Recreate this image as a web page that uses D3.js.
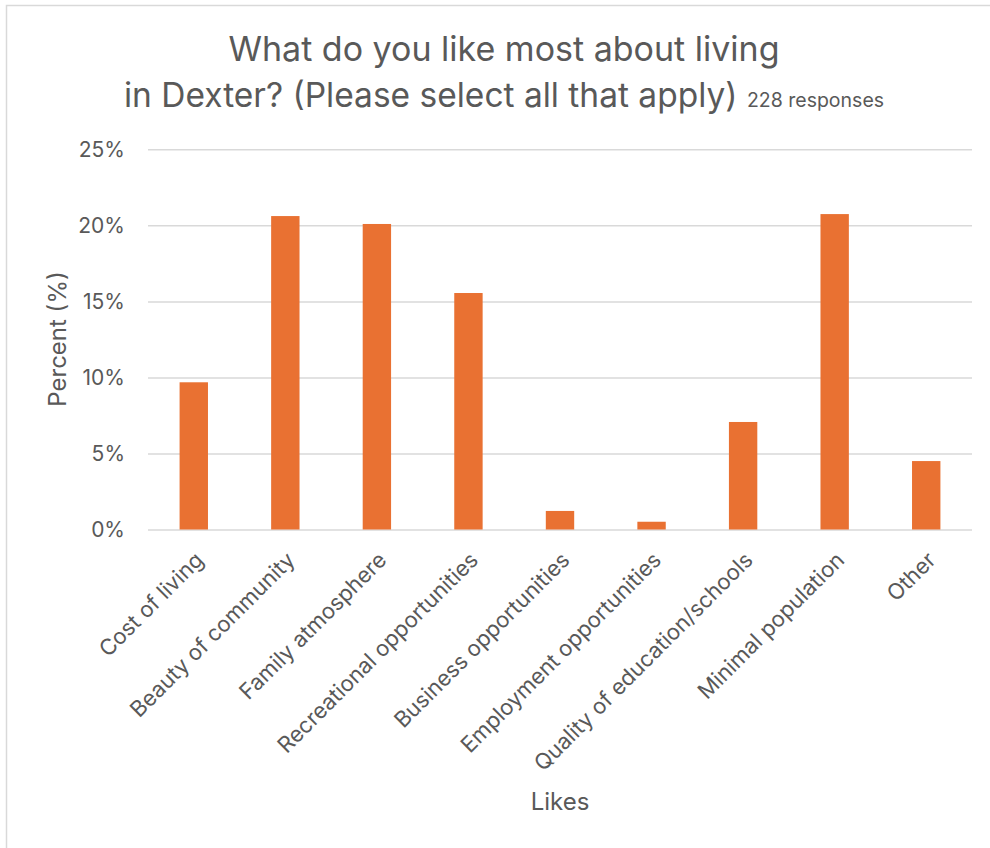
<!DOCTYPE html>
<html>
<head>
<meta charset="utf-8">
<script src="https://cdn.jsdelivr.net/npm/d3@7"></script>
<style>
  html, body { margin: 0; padding: 0; background: #fff; }
  svg { display: block; }
  text { font-family: Inter, "Open Sans", sans-serif; fill: #595959; }
</style>
</head>
<body>
<svg id="chart" width="990" height="848"></svg>
<script>
const categories = [
  "Cost of living",
  "Beauty of community",
  "Family atmosphere",
  "Recreational opportunities",
  "Business opportunities",
  "Employment opportunities",
  "Quality of education/schools",
  "Minimal population",
  "Other"
];
const values = [9.68, 20.61, 20.09, 15.55, 1.22, 0.51, 7.07, 20.74, 4.50];
const yTicks = [0, 5, 10, 15, 20, 25];
const titleLine1 = "What do you like most about living";
const titleLine2 = "in Dexter? (Please select all that apply)";
const subtitle = "228 responses";
const yTitle = "Percent (%)";
const xTitle = "Likes";

const svg = d3.select("#chart");
const plot = { left: 148, right: 972, top: 149.3, bottom: 529.5 };

// chart border
svg.append("rect")
  .attr("x", 6.5).attr("y", 5.5)
  .attr("width", 1000).attr("height", 900)
  .attr("fill", "none").attr("stroke", "#d9d9d9").attr("stroke-width", 1.5);

const x = d3.scaleBand()
  .domain(categories)
  .range([plot.left, plot.right])
  .paddingInner(0.69)
  .paddingOuter(0.345);

const y = d3.scaleLinear()
  .domain([0, 25])
  .range([plot.bottom, plot.top]);

// gridlines + y labels via axis
const yAxis = d3.axisLeft(y)
  .tickValues(yTicks)
  .tickFormat(d => d + "%")
  .tickSize(-(plot.right - plot.left))
  .tickPadding(23);

const gy = svg.append("g")
  .attr("transform", `translate(${plot.left},0)`)
  .call(yAxis);
gy.select(".domain").remove();
gy.selectAll(".tick line").attr("stroke", "#d9d9d9").attr("stroke-width", 1.5);
gy.selectAll(".tick text")
  .attr("font-size", 21)
  .attr("fill", "#595959")
  .style("font-family", "Inter, 'Open Sans', sans-serif");

// bars
svg.append("g").selectAll("rect")
  .data(values)
  .join("rect")
  .attr("x", (d, i) => x(categories[i]))
  .attr("width", x.bandwidth())
  .attr("y", d => y(d))
  .attr("height", d => y(0) - y(d))
  .attr("fill", "#E97132");

// x labels
const xAxis = d3.axisBottom(x).tickSize(0).tickPadding(0);
const gx = svg.append("g")
  .attr("transform", `translate(0,${plot.bottom})`)
  .call(xAxis);
gx.select(".domain").remove();
gx.selectAll(".tick text")
  .attr("font-size", 22)
  .attr("fill", "#595959")
  .style("font-family", "Inter, 'Open Sans', sans-serif")
  .attr("text-anchor", "end")
  .attr("dy", null)
  .attr("y", 0)
  .attr("transform", "translate(11,32) rotate(-45)");

// title
svg.append("text")
  .attr("text-anchor", "middle")
  .attr("font-size", 34)
  .attr("x", 504).attr("y", 61)
  .text(titleLine1);
const line2 = svg.append("text")
  .attr("text-anchor", "middle")
  .attr("x", 504).attr("y", 107);
line2.append("tspan").attr("font-size", 33.5).text(titleLine2 + " ");
line2.append("tspan").attr("font-size", 19.5).text(subtitle);

// axis titles
svg.append("text")
  .attr("text-anchor", "middle")
  .attr("font-size", 24)
  .attr("transform", `translate(66,339) rotate(-90)`)
  .text(yTitle);

svg.append("text")
  .attr("text-anchor", "middle")
  .attr("font-size", 24)
  .attr("x", 560).attr("y", 810)
  .text(xTitle);
</script>
</body>
</html>
